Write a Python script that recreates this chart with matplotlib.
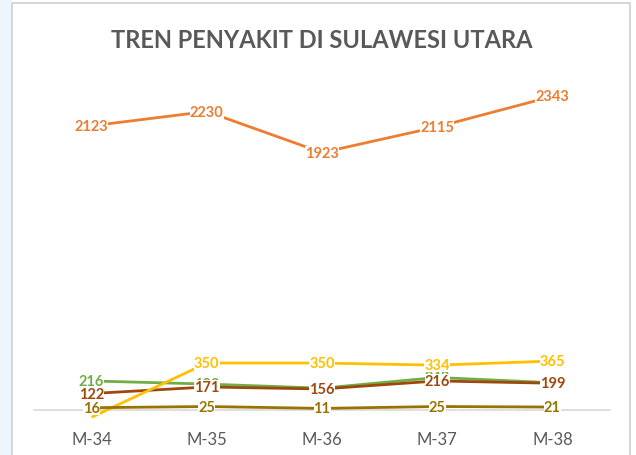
import matplotlib.pyplot as plt
from matplotlib.patches import Rectangle

# ---------------------------------------------------------------------------
# data
# ---------------------------------------------------------------------------
WEEKS = ['M-34', 'M-35', 'M-36', 'M-37', 'M-38']

orange = [2123, 2230, 1923, 2115, 2343]
yellow = [-55, 350, 350, 334, 365]
green = [216, 193, 162, 242, 203]
brown = [122, 171, 156, 216, 199]
gold = [16, 25, 11, 25, 21]

# (values, colour, show label per point)
SERIES = [
    (orange, '#ED7D31', [True] * 5),
    (green, '#70AD47', [True] * 5),
    (brown, '#9E480E', [True] * 5),
    (yellow, '#FFC000', [False, True, True, True, True]),
    (gold, '#997300', [True] * 5),
]

# ---------------------------------------------------------------------------
# figure
# ---------------------------------------------------------------------------
plt.rcParams['font.family'] = ['Lato', 'DejaVu Sans']

fig = plt.figure(figsize=(6.36, 4.56), dpi=100, facecolor='white')

# screenshot surroundings: pale blue strip on the left, grey chart frame
fig.patches.append(Rectangle((0, 0), 12 / 636, 1, transform=fig.transFigure,
                             facecolor='#EEF6FB', edgecolor='none', zorder=0))
fig.patches.append(Rectangle((12 / 636, -0.01), 618 / 636, 1 - 4 / 456 + 0.01,
                             transform=fig.transFigure, facecolor='none',
                             edgecolor='#D0D0D0', lw=1.2, zorder=1))

ax = fig.add_axes([34 / 636, 5 / 456, 576 / 636, 388 / 456])
ax.set_facecolor('none')

x = range(len(WEEKS))
for k, (vals, col, show) in enumerate(SERIES):
    ax.plot(x, vals, color=col, lw=2.0, zorder=2 + k, solid_capstyle='butt')
    for xi, v, s in zip(x, vals, show):
        if not s:
            continue
        ax.text(xi, v, str(v), color=col, fontsize=10.5, fontweight='bold',
                ha='center', va='center', zorder=10 + k,
                bbox=dict(boxstyle='square,pad=0.0', fc='white', ec='none'))

ax.set_xlim(-0.5, 4.5)
ax.set_ylim(-300, 2600)

for side in ['top', 'right', 'left']:
    ax.spines[side].set_visible(False)
ax.spines['bottom'].set_position(('data', 0))
ax.spines['bottom'].set_color('#D9D9D9')
ax.spines['bottom'].set_linewidth(1.2)
ax.spines['bottom'].set_zorder(1)

ax.set_yticks([])
ax.set_xticks(list(x))
ax.set_xticklabels(WEEKS)
ax.tick_params(axis='x', length=0, pad=15, labelsize=12, labelcolor='#595959')

fig.text(322 / 636, 1 - 40 / 456, 'TREN PENYAKIT DI SULAWESI UTARA',
         ha='center', va='center', fontsize=17, fontweight='bold',
         color='#595959')

fig.savefig('out.png', dpi=100)
